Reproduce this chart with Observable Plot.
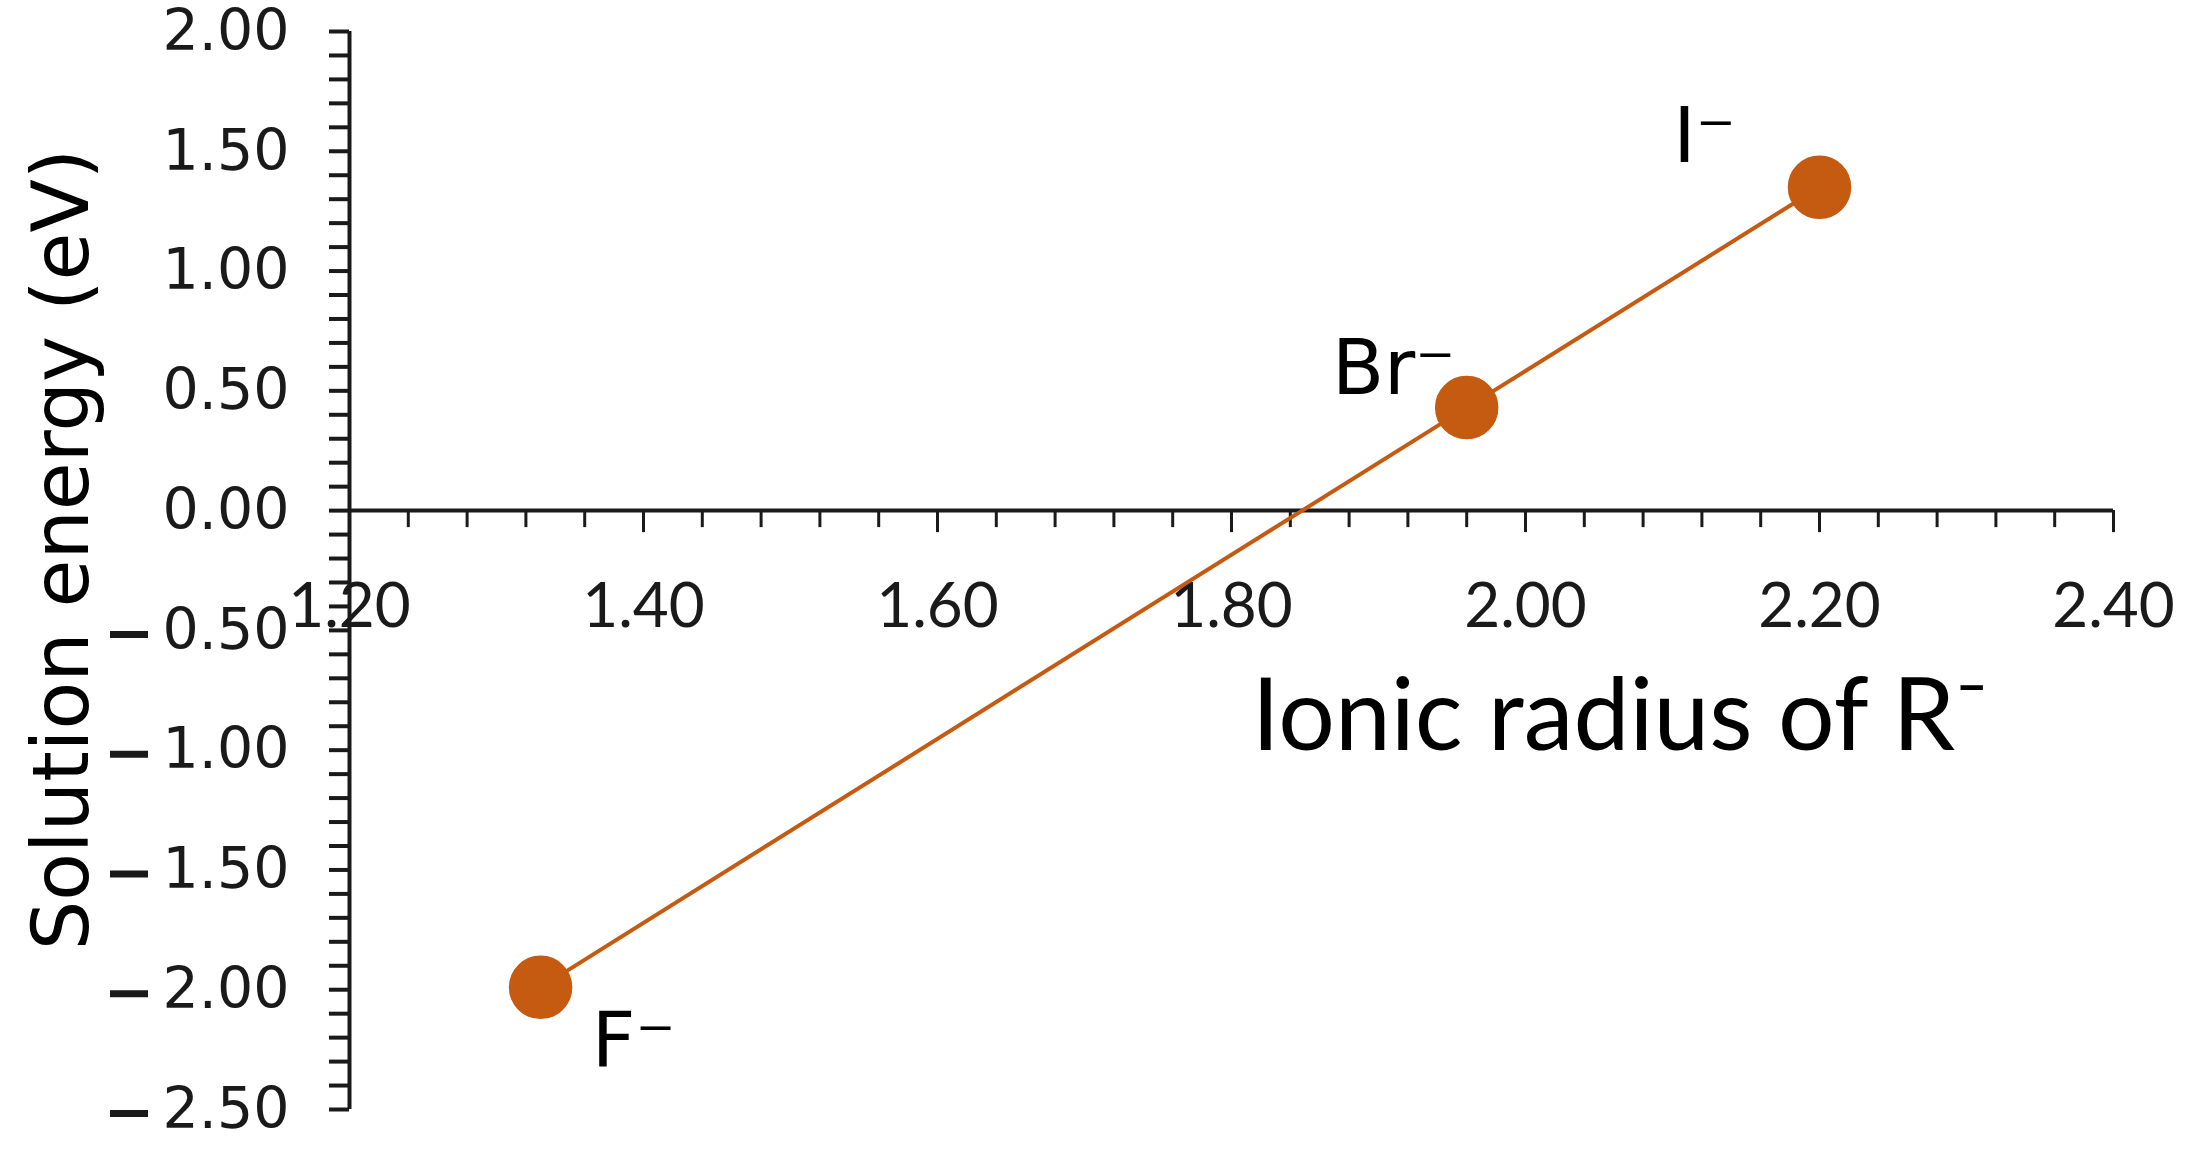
<!DOCTYPE html>
<html><head><meta charset="utf-8">
<script src="https://cdn.jsdelivr.net/npm/d3@7"></script>
<script src="https://cdn.jsdelivr.net/npm/@observablehq/plot@0.6"></script>
<style>body{margin:0;background:#fff}#chart svg{display:block}</style>
</head><body><div id="chart"></div>
<script>
// Data
const ions = ["F⁻", "Br⁻", "I⁻"];
const ionicRadius = [1.33, 1.96, 2.20];
const solutionEnergy = [-1.99, 0.43, 1.35];

// Axis ticks
const xMajorTicks = [1.2, 1.4, 1.6, 1.8, 2.0, 2.2, 2.4];
const xMinorTicks = d3.range(0, 31).map(i => +(1.2 + i * 0.04).toFixed(2));
const yMajorTicks = [2, 1.5, 1, 0.5, 0, -0.5, -1, -1.5, -2, -2.5];
const yMinorTicks = d3.range(0, 46).map(i => +(2 - i * 0.1).toFixed(1));

const xTitle = "Ionic radius of R⁻";
const yTitle = "Solution energy (eV)";

const data = ions.map((ion, i) => ({ion, r: ionicRadius[i], e: solutionEnergy[i]}));

const ORANGE = "#C55A11";
const INK = "#1a1a1a";
const fmt = d => (d < 0 ? "−" : "") + Math.abs(d).toFixed(2);
const fmtAbs = d => Math.abs(d).toFixed(2);

const chart = Plot.plot({
  width: 2193,
  height: 1151,
  marginLeft: 349,
  marginRight: 80,
  marginTop: 31,
  marginBottom: 42,
  x: {domain: [1.2, 2.4], axis: null},
  y: {domain: [-2.5, 2]},
  style: {background: "#fff"},
  marks: [
    // x tick labels (drawn under the axis lines)
    Plot.text(xMajorTicks, {x: d => d, y: 0, text: fmt, dy: 97, fontSize: 62, fontFamily: "Lato", fill: INK}),
    // y axis ticks (all same length, outside)
    Plot.axisY(yMinorTicks, {tickSize: 20, tickFormat: () => "", strokeWidth: 4, stroke: INK, label: null}),
    // y tick labels (digits)
    Plot.axisY(yMajorTicks, {tickSize: 0, tickPadding: 60, tickFormat: fmtAbs, fontSize: 57, fontFamily: "DejaVu Sans", fill: INK, label: null}),
    // bold minus dashes of the negative y tick labels
    Plot.ruleY(yMajorTicks.filter(d => d < 0), {y: d => d, insetLeft: -239, insetRight: 1965, stroke: INK, strokeWidth: 7, dy: 4}),
    // x axis ticks at y = 0
    Plot.ruleX(xMinorTicks, {x: d => d, y1: 0, y2: 0, insetBottom: -17, stroke: INK, strokeWidth: 3}),
    Plot.ruleX(xMajorTicks, {x: d => d, y1: 0, y2: 0, insetBottom: -22, stroke: INK, strokeWidth: 3}),
    // axis lines
    Plot.ruleY([0], {x1: 1.2, x2: 2.4, stroke: INK, strokeWidth: 4}),
    Plot.ruleX([1.2], {y1: -2.5, y2: 2, stroke: INK, strokeWidth: 4}),
    // series
    Plot.line(data, {x: "r", y: "e", stroke: ORANGE, strokeWidth: 4}),
    Plot.dot(data, {x: "r", y: "e", r: 31, fill: ORANGE, stroke: ORANGE}),
    // point labels
    Plot.text(data.filter(d => d.ion === "I⁻"), {x: "r", y: "e", text: "ion", dx: -115, dy: -50, fontSize: 76, fontFamily: "DejaVu Sans", fill: "#000"}),
    Plot.text(data.filter(d => d.ion === "Br⁻"), {x: "r", y: "e", text: "ion", dx: -73, dy: -38, fontSize: 76, fontFamily: "DejaVu Sans", fill: "#000"}),
    Plot.text(data.filter(d => d.ion === "F⁻"), {x: "r", y: "e", text: "ion", dx: 93, dy: 55, fontSize: 76, fontFamily: "DejaVu Sans", fill: "#000"}),
    // titles
    Plot.text([xTitle], {frameAnchor: "right", textAnchor: "end", dx: -125, dy: 147, fontSize: 100, fontFamily: "Lato", fill: "#000"}),
    Plot.text([yTitle], {frameAnchor: "left", textAnchor: "middle", rotate: -90, dx: -286, dy: -21, fontSize: 78, fontFamily: "DejaVu Sans", fill: "#000"})
  ]
});
document.getElementById("chart").append(chart);
</script>
</body></html>
